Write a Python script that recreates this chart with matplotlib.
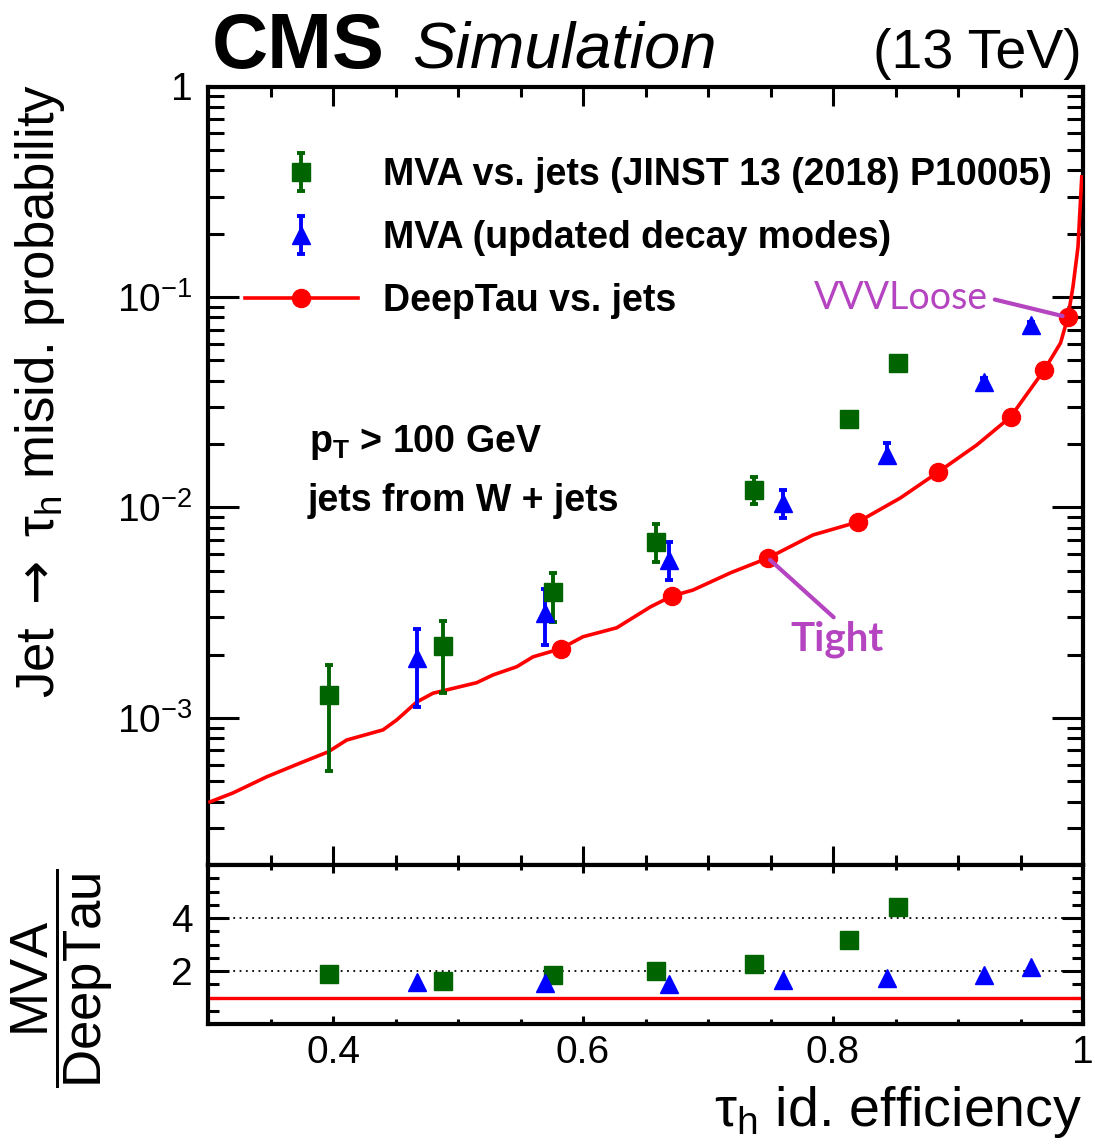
import numpy as np
import matplotlib
matplotlib.use("Agg")
import matplotlib.pyplot as plt
from matplotlib.lines import Line2D
from matplotlib.ticker import FuncFormatter, MultipleLocator, LogLocator, NullFormatter

plt.rcParams['font.family'] = ['Liberation Sans', 'DejaVu Sans']
plt.rcParams['mathtext.fontset'] = 'custom'
plt.rcParams['mathtext.rm'] = 'Liberation Sans'
plt.rcParams['mathtext.it'] = 'Liberation Sans:italic'
plt.rcParams['mathtext.bf'] = 'Liberation Sans:bold'
plt.rcParams['mathtext.sf'] = 'DejaVu Sans'

# MVA vs jets (JINST 13 (2018) P10005)
eff_mva = [0.397, 0.488, 0.576, 0.658, 0.737, 0.813, 0.852]
fake_mva = [1.29e-3, 2.20e-3, 3.97e-3, 6.86e-3, 1.21e-2, 2.63e-2, 4.85e-2]
hi_mva = [1.79e-3, 2.89e-3, 4.89e-3, 8.30e-3, 1.40e-2, 2.80e-2, 5.00e-2]
lo_mva = [5.6e-4, 1.31e-3, 2.86e-3, 5.50e-3, 1.04e-2, 2.48e-2, 4.70e-2]
ratio_mva = [1.89, 1.62, 1.85, 2.00, 2.26, 3.17, 4.42]

# MVA (updated decay modes)
eff_new = [0.467, 0.570, 0.669, 0.760, 0.843, 0.921, 0.958]
fake_new = [1.93e-3, 3.15e-3, 5.63e-3, 1.05e-2, 1.77e-2, 3.95e-2, 7.37e-2]
hi_new = [2.65e-3, 4.10e-3, 6.86e-3, 1.21e-2, 2.02e-2, 4.10e-2, 7.60e-2]
lo_new = [1.13e-3, 2.22e-3, 4.53e-3, 8.90e-3, 1.63e-2, 3.80e-2, 7.10e-2]
ratio_new = [1.58, 1.55, 1.51, 1.66, 1.74, 1.85, 2.15]

# DeepTau vs jets: ROC curve and working points
roc_eff = [0.3016, 0.320, 0.347, 0.374, 0.396, 0.411, 0.440, 0.451, 0.467, 0.480,
           0.515, 0.528, 0.547, 0.560, 0.582, 0.600, 0.627, 0.654, 0.671, 0.688,
           0.718, 0.748, 0.784, 0.820, 0.854, 0.884, 0.915, 0.942, 0.969, 0.982,
           0.988, 0.992, 0.996, 0.999]
roc_fake = [3.99e-4, 4.40e-4, 5.25e-4, 6.11e-4, 6.89e-4, 7.85e-4, 8.77e-4, 9.78e-4, 1.19e-3, 1.31e-3,
            1.47e-3, 1.60e-3, 1.75e-3, 1.95e-3, 2.13e-3, 2.43e-3, 2.68e-3, 3.37e-3, 3.79e-3, 4.05e-3,
            4.89e-3, 5.75e-3, 7.40e-3, 8.53e-3, 1.11e-2, 1.47e-2, 1.98e-2, 2.69e-2, 4.50e-2, 6.04e-2,
            8.04e-2, 0.112, 0.173, 0.372]
wp_names = ["VVTight", "VTight", "Tight", "Medium", "Loose", "VLoose", "VVLoose", "VVVLoose"]
wp_eff = [0.582, 0.671, 0.748, 0.820, 0.884, 0.942, 0.969, 0.988]
wp_fake = [2.13e-3, 3.79e-3, 5.75e-3, 8.53e-3, 1.47e-2, 2.70e-2, 4.50e-2, 8.00e-2]

green = '#006400'
blue = '#0000ff'
red = '#ff0000'
magenta = '#b444c0'

W, H = 1095, 1144
fig = plt.figure(figsize=(W / 100, H / 100), dpi=100)
ax = fig.add_axes([208 / W, 1 - 865 / H, 875 / W, (865 - 86.5) / H])
rax = fig.add_axes([208 / W, 1 - 1024 / H, 875 / W, (1024 - 865) / H], sharex=ax)

# upper panel
ax.plot(roc_eff, roc_fake, color=red, lw=2.6, zorder=3)
ax.plot(wp_eff, wp_fake, 'o', color=red, ms=13, zorder=4)

fm = np.array(fake_mva)
e1 = ax.errorbar(eff_mva, fake_mva, yerr=[fm - np.array(lo_mva), np.array(hi_mva) - fm],
                 fmt='s', color=green, ms=13, elinewidth=2.8, capsize=3.2, capthick=2.8, zorder=5)
fn = np.array(fake_new)
e2 = ax.errorbar(eff_new, fake_new, yerr=[fn - np.array(lo_new), np.array(hi_new) - fn],
                 fmt='^', color=blue, ms=13, elinewidth=2.8, capsize=3.2, capthick=2.8, zorder=5)

ax.set_yscale('log')
ax.set_xlim(0.3, 1.0)
ax.set_ylim(2e-4, 1)

def ylab(v, pos):
    if abs(v - 1) < 1e-9:
        return '1'
    return r'$10^{%d}$' % int(round(np.log10(v)))

ax.yaxis.set_major_locator(LogLocator(base=10, numticks=10))
ax.yaxis.set_minor_locator(LogLocator(base=10, subs=np.arange(2, 10), numticks=20))
ax.yaxis.set_major_formatter(FuncFormatter(ylab))
ax.yaxis.set_minor_formatter(NullFormatter())
ax.xaxis.set_major_locator(MultipleLocator(0.2))
ax.xaxis.set_minor_locator(MultipleLocator(0.05))

for a in (ax, rax):
    for s in a.spines.values():
        s.set_linewidth(3)
    a.tick_params(which='both', direction='in', top=True, right=True, width=2.2, labelsize=28)

ax.tick_params(axis='y', which='major', length=22, pad=11)
ax.tick_params(axis='y', which='minor', length=11.5)
ax.tick_params(axis='x', which='major', length=14, labelbottom=False)
ax.tick_params(axis='x', which='minor', length=7)

leg_line = Line2D([], [], color=red, lw=2.6, marker='o', ms=13)
leg = ax.legend([e1, e2, leg_line],
                ['MVA vs. jets (JINST 13 (2018) P10005)', 'MVA (updated decay modes)', 'DeepTau vs. jets'],
                loc='upper left', bbox_to_anchor=(0.0423, 0.909), frameon=False,
                prop={'size': 27, 'weight': 'bold'}, handlelength=3.0, handletextpad=0.67,
                labelspacing=0.72, borderpad=0, borderaxespad=0)

ax.text(0.381, 1.84e-2, r'p$_{\mathbf{T}}$ > 100 GeV', fontsize=27, fontweight='bold', va='baseline')
ax.text(0.380, 9.6e-3, 'jets from W + jets', fontsize=27, fontweight='bold', va='baseline')

ax.annotate('VVVLoose', xy=(wp_eff[7], wp_fake[7]), xytext=(0.924, 0.099),
            fontsize=27, family=['Lato', 'DejaVu Sans'], color=magenta, ha='right', va='center',
            arrowprops=dict(arrowstyle='-', color=magenta, lw=3, shrinkA=3, shrinkB=4,
                            relpos=(1.0, 0.5)), zorder=6)
ax.annotate('Tight', xy=(wp_eff[2], wp_fake[2]), xytext=(0.803, 2.10e-3),
            fontsize=29, fontweight='bold', family=['Lato', 'DejaVu Sans'], color=magenta,
            ha='center', va='baseline',
            arrowprops=dict(arrowstyle='-', color=magenta, lw=3, shrinkA=0, shrinkB=2,
                            relpos=(0.5, 1.0)), zorder=6)

# ratio panel
rax.axhline(1, color=red, lw=2.4, zorder=2)
for g in (2, 4):
    rax.axhline(g, color='black', lw=1.3, ls=(0, (1, 2.5)), zorder=1)
rax.plot(eff_mva, ratio_mva, 's', color=green, ms=13, zorder=4)
rax.plot(eff_new, ratio_new, '^', color=blue, ms=13, zorder=4)
rax.set_ylim(0, 6)
rax.set_yticks([2, 4])
rax.yaxis.set_minor_locator(MultipleLocator(0.5))
rax.set_xticks([0.4, 0.6, 0.8, 1.0])
rax.xaxis.set_major_formatter(FuncFormatter(lambda v, p: '%g' % v))
rax.tick_params(axis='x', which='major', length=6, pad=8)
rax.tick_params(axis='x', which='minor', length=3.5)
rax.tick_params(axis='y', which='major', length=15, pad=11)
rax.tick_params(axis='y', which='minor', length=8)
rax.set_xlim(0.3, 1.0)

# labels
fig.text(40 / W, 1 - 84 / H, r'Jet $\mathsf{\rightarrow}$ τ$_{\mathrm{h}}$ misid. probability', rotation=90,
         fontsize=38, ha='center', va='top')
fig.text(62 / W, 1 - 978 / H, r'$\dfrac{\mathrm{MVA}}{\mathrm{DeepTau}}$', rotation=90,
         fontsize=38, ha='center', va='center')
fig.text(1082 / W, 1 - 1126 / H, r'τ$_{\mathrm{h}}$ id. efficiency', fontsize=40,
         ha='right', va='baseline')

fig.text(212 / W, 1 - 68 / H, 'CMS', fontsize=56, fontweight='bold', va='baseline')
fig.text(412 / W, 1 - 68 / H, 'Simulation', fontsize=47, style='italic', va='baseline')
fig.text(1082 / W, 1 - 68 / H, '(13 TeV)', fontsize=40, ha='right', va='baseline')

fig.savefig('out.png', dpi=100)
